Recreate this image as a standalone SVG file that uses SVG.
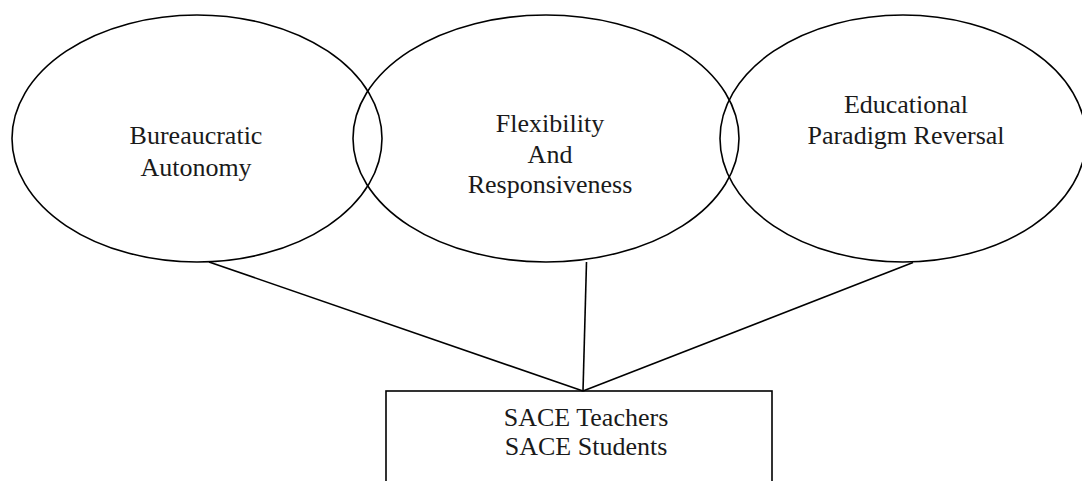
<svg xmlns="http://www.w3.org/2000/svg" width="1082" height="481" viewBox="0 0 1082 481">
<style>
.shape{fill:none;stroke:#000;stroke-width:1.6}
.lbl{font-family:"Liberation Serif","Times New Roman",serif;font-size:26px;fill:#1a1a1a;text-anchor:middle}
.conn{stroke:#000;stroke-width:1.6;fill:none}
</style>
<rect width="1082" height="481" fill="#fff"/>
<g id="node-bureaucratic">
<ellipse class="shape" cx="197" cy="138.5" rx="185" ry="123.5"/>
<text class="lbl" x="196" y="144">Bureaucratic</text>
<text class="lbl" x="196" y="176">Autonomy</text>
</g>
<g id="node-flexibility">
<ellipse class="shape" cx="546" cy="138.5" rx="193" ry="123.5"/>
<text class="lbl" x="550" y="132">Flexibility</text>
<text class="lbl" x="550" y="163">And</text>
<text class="lbl" x="550" y="193">Responsiveness</text>
</g>
<g id="node-educational">
<ellipse class="shape" cx="903" cy="138.5" rx="183" ry="123.5"/>
<text class="lbl" x="906" y="113">Educational</text>
<text class="lbl" x="906" y="144">Paradigm Reversal</text>
</g>
<g id="node-sace">
<rect class="shape" x="386" y="391" width="386" height="100"/>
<text class="lbl" x="586" y="426">SACE Teachers</text>
<text class="lbl" x="586" y="455">SACE Students</text>
</g>
<g id="connectors">
<line class="conn" x1="209" y1="262" x2="583" y2="391"/>
<line class="conn" x1="586.5" y1="262" x2="583" y2="391"/>
<line class="conn" x1="913" y1="262.5" x2="583" y2="391"/>
</g>
</svg>
